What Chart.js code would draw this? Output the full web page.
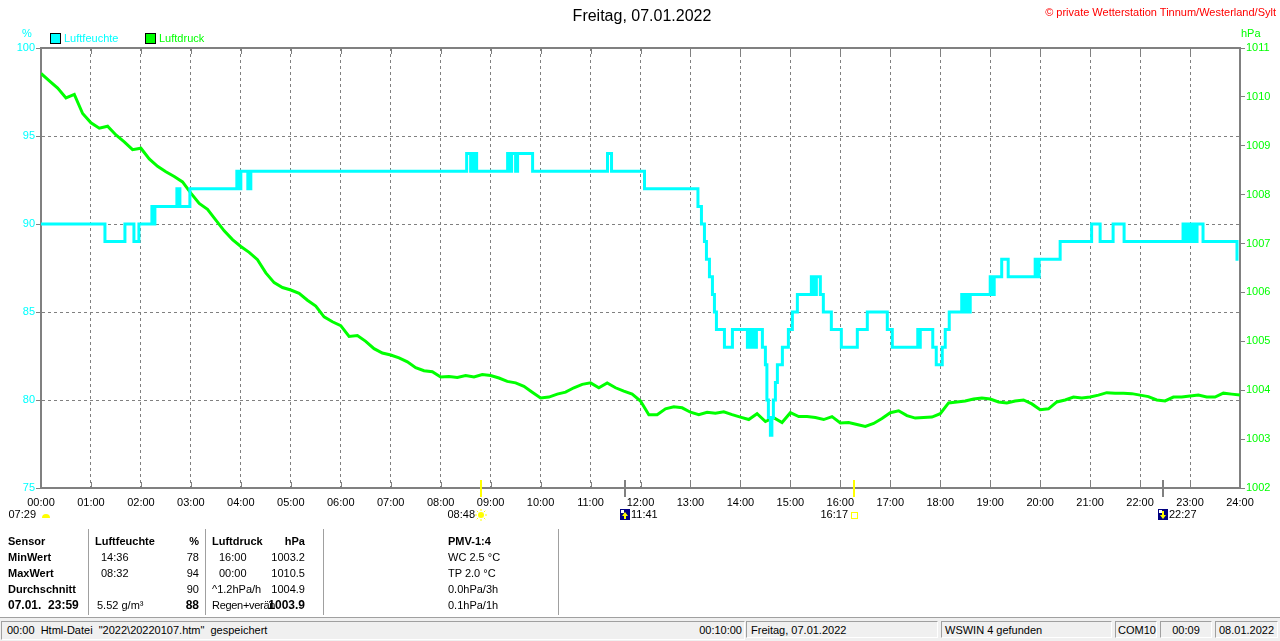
<!DOCTYPE html>
<html>
<head>
<meta charset="utf-8">
<script src="https://cdn.jsdelivr.net/npm/chart.js@4.4.1/dist/chart.umd.min.js"></script>
<style>
body{margin:0;width:1280px;height:641px;background:#fff;position:relative;overflow:hidden;font-family:"Liberation Sans",Arial,sans-serif;font-size:11px;color:#000;}
#wrap{position:absolute;left:0;top:0;width:1280px;height:530px;}
.t{position:absolute;white-space:nowrap;line-height:14px;}
.b{font-weight:bold;}
.r{text-align:right;}
.sep{position:absolute;top:529px;height:86px;width:1px;background:#a0a0a0;border-right:1px solid #fff;}
.pn{position:absolute;top:621px;height:17px;border-top:1px solid #a0a0a0;border-left:1px solid #a0a0a0;border-bottom:1px solid #fff;border-right:1px solid #fff;line-height:17px;white-space:nowrap;}
</style>
</head>
<body>
<div id="wrap"><canvas id="weather-chart" width="1280" height="530"></canvas></div>

<div class="t" style="left:0;width:1284px;top:7px;text-align:center;font-size:16px;line-height:18px;">Freitag, 07.01.2022</div>
<div class="t" style="right:4px;top:5px;color:#ff0000;">© private Wetterstation Tinnum/Westerland/Sylt</div>
<div class="t" style="left:22px;top:26px;color:#00ffff;">%</div>
<div class="t" style="left:1241px;top:26px;color:#00ff00;">hPa</div>
<div style="position:absolute;left:50px;top:33px;width:9px;height:9px;background:#00ffff;border:1px solid #000;"></div>
<div class="t" style="left:64px;top:31px;color:#00ffff;">Luftfeuchte</div>
<div style="position:absolute;left:145px;top:33px;width:9px;height:9px;background:#00ff00;border:1px solid #000;"></div>
<div class="t" style="left:159px;top:31px;color:#00ff00;">Luftdruck</div>

<!-- Tabelle -->
<div class="sep" style="left:88px"></div>
<div class="sep" style="left:205px"></div>
<div class="sep" style="left:323px"></div>
<div class="sep" style="left:558px"></div>

<div class="t b" style="left:8px;top:534px;">Sensor</div>
<div class="t b" style="left:8px;top:550px;">MinWert</div>
<div class="t b" style="left:8px;top:566px;">MaxWert</div>
<div class="t b" style="left:8px;top:582px;">Durchschnitt</div>
<div class="t b" style="left:8px;top:598px;font-size:12px;">07.01.&nbsp; 23:59</div>

<div class="t b" style="left:95px;top:534px;">Luftfeuchte</div>
<div class="t" style="left:101px;top:550px;">14:36</div>
<div class="t" style="left:101px;top:566px;">08:32</div>
<div class="t" style="left:97px;top:598px;">5.52 g/m³</div>
<div class="t b r" style="left:150px;width:49px;top:534px;">%</div>
<div class="t r" style="left:150px;width:49px;top:550px;">78</div>
<div class="t r" style="left:150px;width:49px;top:566px;">94</div>
<div class="t r" style="left:150px;width:49px;top:582px;">90</div>
<div class="t b r" style="left:150px;width:49px;top:598px;font-size:12px;">88</div>

<div class="t b" style="left:212px;top:534px;">Luftdruck</div>
<div class="t" style="left:219px;top:550px;">16:00</div>
<div class="t" style="left:219px;top:566px;">00:00</div>
<div class="t" style="left:212px;top:582px;">^1.2hPa/h</div>
<div class="t" style="left:212px;top:598px;letter-spacing:-0.3px;">Regen+verän</div>
<div class="t b r" style="left:255px;width:50px;top:534px;">hPa</div>
<div class="t r" style="left:255px;width:50px;top:550px;">1003.2</div>
<div class="t r" style="left:255px;width:50px;top:566px;">1010.5</div>
<div class="t r" style="left:255px;width:50px;top:582px;">1004.9</div>
<div class="t b r" style="left:255px;width:50px;top:598px;font-size:12px;">1003.9</div>

<div class="t b" style="left:448px;top:534px;">PMV-1:4</div>
<div class="t" style="left:448px;top:550px;">WC 2.5 °C</div>
<div class="t" style="left:448px;top:566px;">TP 2.0 °C</div>
<div class="t" style="left:448px;top:582px;">0.0hPa/3h</div>
<div class="t" style="left:448px;top:598px;">0.1hPa/1h</div>

<!-- Statusleiste -->
<div style="position:absolute;left:0;top:617px;width:1280px;height:24px;background:#f0f0f0;border-top:1px solid #a0a0a0;"></div>
<div class="pn" style="left:1px;width:742px;"><span style="position:absolute;left:5px;">00:00&nbsp; Html-Datei&nbsp; "2022\20220107.htm"&nbsp; gespeichert</span><span style="position:absolute;right:2px;">00:10:00</span></div>
<div class="pn" style="left:746px;width:192px;padding-left:4px;box-sizing:border-box;">Freitag, 07.01.2022</div>
<div class="pn" style="left:941px;width:171px;padding-left:3px;box-sizing:border-box;">WSWIN 4 gefunden</div>
<div class="pn" style="left:1115px;width:42px;padding-left:2px;box-sizing:border-box;">COM10</div>
<div class="pn" style="left:1160px;width:52px;text-align:center;box-sizing:border-box;">00:09</div>
<div class="pn" style="left:1215px;width:63px;text-align:center;box-sizing:border-box;">08.01.2022</div>

<script>
// Luftfeuchte (%) - Wert gilt ab Zeitpunkt (Stunden)
const humTime = [0, 1.28, 1.68, 1.86, 1.96, 2.22, 2.25, 2.28, 2.72, 2.78, 2.98,
  3.92, 3.96, 4.0, 4.14, 4.2, 8.52, 8.6, 8.66, 8.72, 9.34, 9.38, 9.42, 9.5, 9.54, 9.84,
  11.34, 11.42, 12.08, 13.15, 13.22, 13.28, 13.32, 13.38, 13.44, 13.48, 13.52,
  13.68, 13.84, 14.14, 14.18, 14.22, 14.26, 14.3, 14.32, 14.44, 14.5, 14.53, 14.56, 14.6,
  14.63, 14.66, 14.7, 14.74, 14.84, 14.96, 15.04, 15.14, 15.42, 15.46, 15.52, 15.6, 15.66,
  15.82, 16.02, 16.34, 16.54, 16.94, 17.04, 17.55, 17.58, 17.6, 17.85, 17.92, 18.04, 18.1,
  18.18, 18.43, 18.46, 18.5, 18.55, 18.6, 19.0, 19.04, 19.08, 19.23, 19.36, 19.9, 19.94,
  19.98, 20.4, 21.03, 21.2, 21.46, 21.68, 22.86, 22.9, 22.94, 23.0, 23.04, 23.1, 23.14,
  23.26, 23.94, 23.97];
const humValue = [90, 89, 90, 89, 90, 91, 90, 91, 92, 91, 92,
  93, 92, 93, 92, 93, 94, 93, 94, 93, 94, 93, 94, 93, 94, 93,
  94, 93, 92, 91, 90, 89, 88, 87, 86, 85, 84,
  83, 84, 83, 84, 83, 84, 83, 84, 83, 82, 80, 79, 78,
  79, 80, 81, 82, 83, 84, 85, 86, 87, 86, 87, 86, 85,
  84, 83, 84, 85, 84, 83, 84, 83, 84, 83, 82, 83, 84,
  85, 86, 85, 86, 85, 86, 87, 86, 87, 88, 87, 88, 87,
  88, 89, 90, 89, 90, 89, 90, 89, 90, 89, 90, 89, 90,
  89, 88, 88];

// Luftdruck (hPa) alle 10 Minuten, 00:00 - 24:00
const pressure = [
  1010.48, 1010.33, 1010.18, 1009.98, 1010.05, 1009.66, 1009.47, 1009.36, 1009.40, 1009.22, 1009.08, 1008.92,
  1008.95, 1008.73, 1008.58, 1008.47, 1008.37, 1008.26, 1008.03, 1007.82, 1007.70, 1007.48, 1007.26, 1007.08,
  1006.94, 1006.82, 1006.67, 1006.40, 1006.20, 1006.10, 1006.05, 1005.98, 1005.84, 1005.72, 1005.50, 1005.40,
  1005.32, 1005.10, 1005.12, 1005.00, 1004.85, 1004.76, 1004.72, 1004.66, 1004.58, 1004.46, 1004.40, 1004.38,
  1004.27, 1004.28, 1004.26, 1004.30, 1004.27, 1004.32, 1004.30, 1004.25, 1004.18, 1004.15, 1004.08, 1003.96,
  1003.84, 1003.86, 1003.92, 1003.96, 1004.05, 1004.12, 1004.15, 1004.05, 1004.15, 1004.05, 1003.98, 1003.92,
  1003.78, 1003.50, 1003.50, 1003.62, 1003.66, 1003.64, 1003.55, 1003.50, 1003.55, 1003.53, 1003.56, 1003.50,
  1003.45, 1003.40, 1003.52, 1003.36, 1003.44, 1003.34, 1003.54, 1003.46, 1003.46, 1003.44, 1003.40, 1003.46,
  1003.33, 1003.34, 1003.30, 1003.26, 1003.32, 1003.42, 1003.54, 1003.58, 1003.48, 1003.43, 1003.44, 1003.45,
  1003.52, 1003.74, 1003.76, 1003.78, 1003.82, 1003.84, 1003.82, 1003.76, 1003.74, 1003.78, 1003.80, 1003.72,
  1003.60, 1003.62, 1003.76, 1003.80, 1003.86, 1003.84, 1003.86, 1003.90, 1003.95, 1003.94, 1003.94, 1003.93,
  1003.90, 1003.87, 1003.80, 1003.78, 1003.86, 1003.86, 1003.88, 1003.90, 1003.86, 1003.86, 1003.94, 1003.92,
  1003.90];

// Sonne / Mond
const dawnLabel = '07:29';
const eventTimes = ['08:48', '11:41', '16:17', '22:27'];
const eventKinds = ['sunrise', 'moonrise', 'sunset', 'moonset'];

const FONT = '"Liberation Sans", Arial, sans-serif';
const hours = s => { const p = s.split(':'); return +p[0] + p[1] / 60; };

// Rahmen oben + kurze Striche an den Stunden
const framePlugin = {
  id: 'frame',
  afterDatasetsDraw(chart) {
    const a = chart.chartArea, x = chart.scales.x, c = chart.ctx;
    c.save();
    c.strokeStyle = '#808080';
    c.lineWidth = 2;
    c.beginPath(); c.moveTo(a.left - 1, a.top); c.lineTo(a.right + 1, a.top); c.stroke();
    c.lineWidth = 1;
    for (let h = 1; h < 24; h++) {
      const px = Math.round(x.getPixelForValue(h)) + 0.5;
      c.beginPath(); c.moveTo(px, a.top); c.lineTo(px, a.top + 6); c.stroke();
      c.beginPath(); c.moveTo(px, a.bottom - 6); c.lineTo(px, a.bottom); c.stroke();
    }
    c.restore();
  }
};

const eventPlugin = {
  id: 'events',
  afterDraw(chart) {
    const a = chart.chartArea, x = chart.scales.x, c = chart.ctx;
    const ty = a.bottom + 27;
    c.save();
    c.font = '11px ' + FONT;
    c.textBaseline = 'middle';
    c.fillStyle = '#000';
    // Daemmerung links
    c.textAlign = 'right';
    c.fillText(dawnLabel, a.left - 5, ty);
    c.fillStyle = '#ffff00';
    c.beginPath(); c.arc(a.left + 5, ty + 3, 4, Math.PI, 0); c.fill();
    eventTimes.forEach((t, i) => {
      const px = Math.round(x.getPixelForValue(hours(t)));
      const kind = eventKinds[i];
      const isSun = kind.startsWith('sun');
      c.fillStyle = isSun ? '#ffff00' : '#808080';
      c.fillRect(px - 1, a.bottom - 8, 2, 17);
      c.fillStyle = '#000';
      if (kind === 'sunrise') {
        c.textAlign = 'right'; c.fillText(t, px - 6, ty);
        c.fillStyle = '#ffff00'; c.strokeStyle = '#ffff00'; c.lineWidth = 1;
        c.beginPath(); c.arc(px, ty, 3, 0, Math.PI * 2); c.fill();
        for (let k = 0; k < 8; k++) {
          const an = k * Math.PI / 4;
          c.beginPath(); c.moveTo(px + Math.cos(an) * 4, ty + Math.sin(an) * 4);
          c.lineTo(px + Math.cos(an) * 6, ty + Math.sin(an) * 6); c.stroke();
        }
      } else if (kind === 'sunset') {
        c.textAlign = 'right'; c.fillText(t, px - 6, ty);
        c.strokeStyle = '#ffff00'; c.lineWidth = 1;
        c.strokeRect(px - 2.5, ty - 2.5, 6, 6);
      } else {
        c.textAlign = 'left'; c.fillText(t, px + 6, ty);
        c.fillStyle = '#000080'; c.fillRect(px - 5, ty - 6, 10, 11);
        c.fillStyle = '#ffffff'; c.fillRect(px - 4, ty - 5, 3, 3);
        c.fillStyle = '#ffff00';
        c.beginPath();
        if (kind === 'moonrise') { c.moveTo(px, ty - 3); c.lineTo(px - 3, ty + 1); c.lineTo(px + 3, ty + 1); }
        else { c.moveTo(px, ty + 4); c.lineTo(px - 3, ty); c.lineTo(px + 3, ty); }
        c.fill();
        c.fillRect(px - 1, kind === 'moonrise' ? ty : ty - 4, 2, 4);
      }
    });
    c.restore();
  }
};

const ctx_weather = document.getElementById('weather-chart').getContext('2d');
const weather_chart = new Chart(ctx_weather, {
  type: 'line',
  data: {
    datasets: [{
      label: 'Luftfeuchte',
      data: humTime.map((t, i) => ({ x: t, y: humValue[i] })),
      borderColor: '#00ffff',
      borderWidth: 3,
      pointRadius: 0,
      stepped: 'before',
      yAxisID: 'y',
    }, {
      label: 'Luftdruck',
      data: pressure.map((p, i) => ({ x: i / 6, y: p })),
      borderColor: '#00ff00',
      borderWidth: 3,
      pointRadius: 0,
      tension: 0,
      yAxisID: 'p',
    }]
  },
  options: {
    responsive: false,
    animation: false,
    layout: { padding: { top: 48, left: 0, right: 0, bottom: 0 } },
    plugins: {
      legend: { display: false },
      tooltip: { enabled: false },
    },
    scales: {
      x: {
        type: 'linear', min: 0, max: 24,
        afterFit: s => { s.height = 42; },
        ticks: {
          stepSize: 1, autoSkip: false, maxRotation: 0, padding: 8,
          color: '#000', font: { family: FONT, size: 11 },
          callback: v => String(v).padStart(2, '0') + ':00',
        },
        grid: { color: '#808080', lineWidth: 1, drawTicks: false },
        border: { color: '#808080', width: 2, dash: [3, 3] },
      },
      y: {
        position: 'left', min: 75, max: 100,
        afterFit: s => { s.width = 41; },
        ticks: { stepSize: 5, padding: 1, color: '#00ffff', font: { family: FONT, size: 11 } },
        grid: { color: '#808080', lineWidth: 1, tickLength: 5, tickColor: '#808080' },
        border: { color: '#808080', width: 2, dash: [3, 3] },
      },
      p: {
        position: 'right', min: 1002, max: 1011,
        afterFit: s => { s.width = 40; },
        ticks: { stepSize: 1, padding: 1, color: '#00ff00', font: { family: FONT, size: 11 }, callback: v => String(v) },
        grid: { drawOnChartArea: false, tickLength: 5, tickColor: '#808080' },
        border: { color: '#808080', width: 2 },
      }
    }
  },
  plugins: [framePlugin, eventPlugin]
});
</script>
</body>
</html>
